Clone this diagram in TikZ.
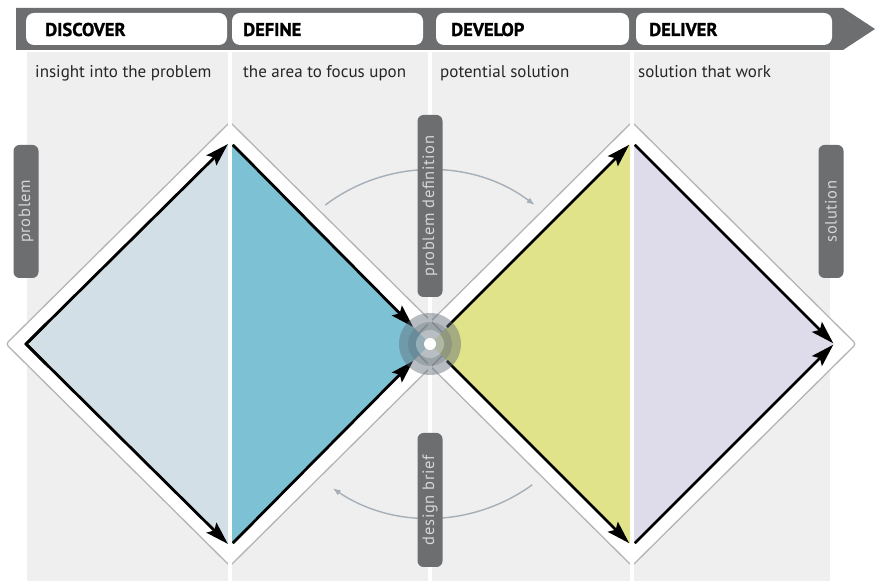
\documentclass[tikz,border=0pt]{standalone}
\usepackage{fontspec}
\setmainfont{PT Sans}
\newfontfamily\tagfont[LetterSpace=4]{PT Sans}
\newfontfamily\titlefont[FakeBold=1.2]{PT Sans Bold}
\usepackage{tikz}
\usetikzlibrary{arrows.meta,positioning,calc}
\definecolor{colbg}{HTML}{EFEFEF}
\definecolor{bandgray}{HTML}{6D6E70}
\definecolor{discoverfill}{HTML}{D2DFE7}
\definecolor{definefill}{HTML}{7DC1D4}
\definecolor{developfill}{HTML}{E1E38B}
\definecolor{deliverfill}{HTML}{DEDCEA}
\definecolor{rimgray}{HTML}{B4B4B4}
\definecolor{loopgray}{HTML}{A6AEB7}
\definecolor{tagtext}{HTML}{D6D6D6}
\definecolor{hubgray}{HTML}{5F6B78}

\begin{document}
\begin{tikzpicture}[x=1pt, y=1pt,
                phasebox/.style={fill=white, rounded corners=8pt, minimum height=32pt, inner sep=0pt},
                phasetitle/.style={anchor=base west, inner sep=0pt, font=\titlefont\fontsize{18.5}{20}\selectfont},
                phasetext/.style={anchor=base west, inner sep=0pt, text=black!85, font=\fontsize{17}{19}\selectfont},
                column/.style={fill=colbg},
                rimline/.style={draw=rimgray, line width=1.3pt, rounded corners=3pt},
                flow/.style={-{Stealth[length=23pt, width=14pt, inset=4pt]}, line width=2.8pt, black},
                loop/.style={-{Latex[length=8pt, width=6pt]}, line width=1.4pt, loopgray},
                tagbox/.style={fill=bandgray, text=tagtext, rounded corners=6pt, rotate=90, minimum height=25pt, inner sep=0pt, font=\tagfont\fontsize{16.5}{18}\selectfont}
            ]
            \useasboundingbox (0,0) rectangle (876,581);
            \fill[white] (0,0) rectangle (876,581);
            % phase columns
            \foreach \xa/\xb in {27/228, 232/428, 432/630, 634/830}
                \fill[column] (\xa,0) rectangle (\xb,529);
            % banner
            \fill[bandgray] (16,531) -- (843,531) -- (875,552) -- (843,573) -- (16,573) -- cycle;
            \node[phasebox, minimum width=201pt] (discover) at (126.5,552) {};
            \node[phasebox, minimum width=191pt] (define) at (327.5,552) {};
            \node[phasebox, minimum width=193pt] (develop) at (532.5,552) {};
            \node[phasebox, minimum width=196pt] (deliver) at (734,552) {};
            \node[phasetitle] (discovert) at (45,545) {DISCOVER};
            \node[phasetitle] (definet) at (243,545) {DEFINE};
            \node[phasetitle] (developt) at (451,545) {DEVELOP};
            \node[phasetitle] (delivert) at (649,545) {DELIVER};
            \node[phasetext] (discovers) at (35,503) {insight into the problem};
            \node[phasetext] (defines) at (243,503) {the area to focus upon};
            \node[phasetext] (develops) at (440,503) {potential solution};
            \node[phasetext] (delivers) at (638,503) {solution that work};
            % double diamond
            \coordinate (Lw) at (26,237);
            \coordinate (Ln) at (230,439);
            \coordinate (Ls) at (230,35);
            \coordinate (C) at (430,237);
            \coordinate (Rn) at (632,439);
            \coordinate (Rs) at (632,35);
            \coordinate (Re) at (834,237);
            \foreach \cx in {230,632}
                \fill[white] (\cx-224,237) -- (\cx,459) -- (\cx+224,237) -- (\cx,15) -- cycle;
            \foreach \cx in {230,632}
                \draw[rimline] (\cx-224,237) -- (\cx,459) -- (\cx+224,237) -- (\cx,15) -- cycle;
            \fill[discoverfill] (Lw) -- (Ln) -- (Ls) -- cycle;
            \fill[definefill] (Ln) -- (C) -- (Ls) -- cycle;
            \fill[developfill] (C) -- (Rn) -- (Rs) -- cycle;
            \fill[deliverfill] (Rn) -- (Re) -- (Rs) -- cycle;
            \foreach \xs in {230,430,632}
                \draw[white, line width=4pt] (\xs,0) -- (\xs,529);
            % flows
            \draw[line width=2.8pt] ($(Lw)!0.1!(Ln)$) -- (Lw) -- ($(Lw)!0.1!(Ls)$);
            \draw[flow, shorten >=3pt] (Lw) -- (Ln);
            \draw[flow, shorten >=3pt] (Lw) -- (Ls);
            \draw[flow, shorten <=4pt, shorten >=24pt] (Ln) -- (C);
            \draw[flow, shorten <=4pt, shorten >=24pt] (Ls) -- (C);
            \draw[flow, shorten <=24pt, shorten >=4pt] (C) -- (Rn);
            \draw[flow, shorten <=24pt, shorten >=4pt] (C) -- (Rs);
            \draw[flow, shorten <=4pt, shorten >=1pt] (Rn) -- (Re);
            \draw[flow, shorten <=4pt, shorten >=1pt] (Rs) -- (Re);
            % hub
            \fill[hubgray, opacity=0.45] (C) circle[radius=31];
            \fill[hubgray, opacity=0.3] (C) circle[radius=22];
            \fill[white, opacity=0.3] (C) circle[radius=14];
            \fill[white] (C) circle[radius=6];
            % loops
            \draw[loop] (C) ++(127:174) arc[start angle=127, end angle=53, radius=174];
            \draw[loop] (C) ++(-54:174) arc[start angle=-54, end angle=-124, radius=174];
            % tags
            \node[tagbox, minimum width=133pt] (problem) at (26,369.5) {problem};
            \node[tagbox, minimum width=133pt] (solution) at (831,369.5) {solution};
            \node[tagbox, minimum width=182pt] (probdef) at (430,375) {problem definition};
            \node[tagbox, minimum width=134pt] (brief) at (430,81) {design brief};
        \end{tikzpicture}
\end{document}
